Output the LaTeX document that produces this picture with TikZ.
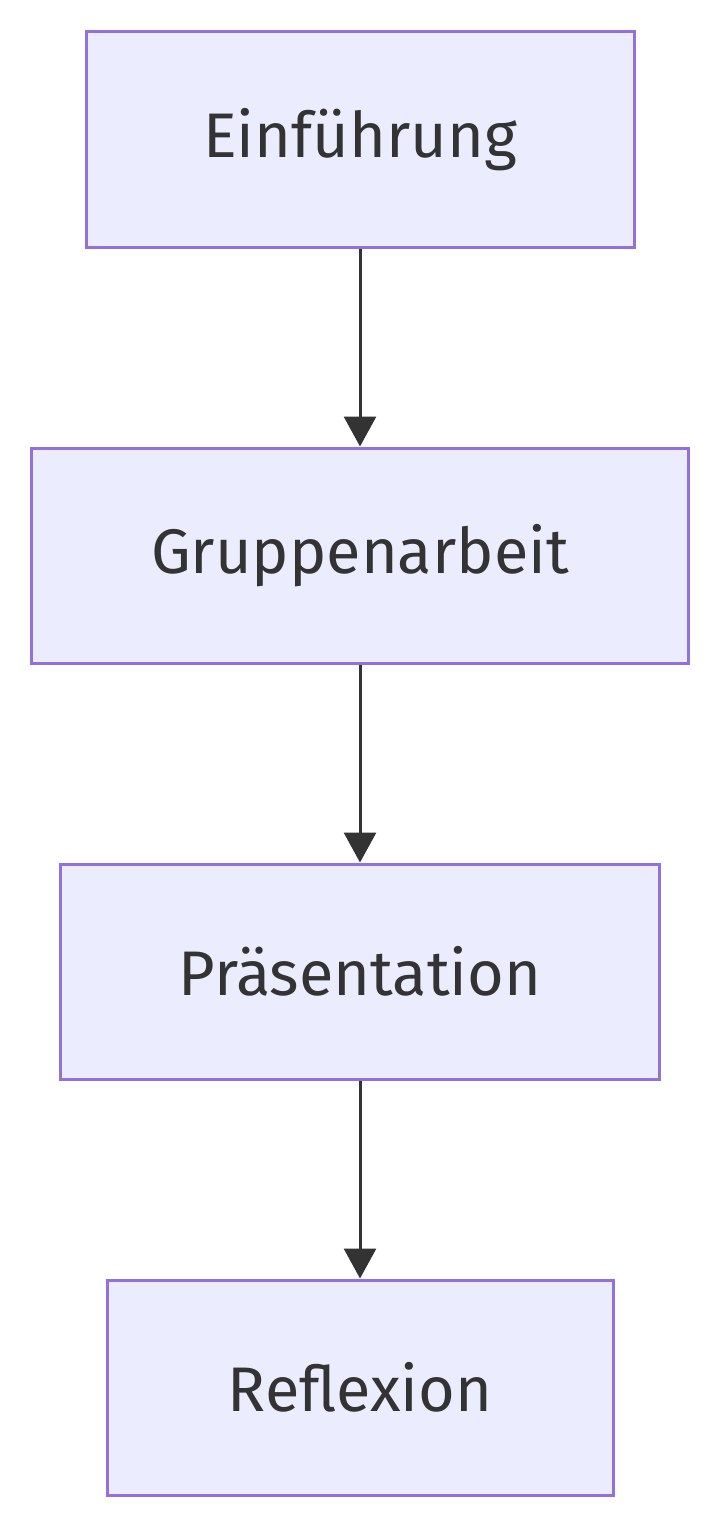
\documentclass[tikz,border=0pt]{standalone}
\usepackage{fontspec}
\setmainfont{Fira Sans}
\usepackage{xcolor}
\usetikzlibrary{arrows.meta}
\definecolor{boxfill}{HTML}{ECECFF}
\definecolor{boxline}{HTML}{9370DB}
\definecolor{ink}{HTML}{333333}
\begin{document}
\begin{tikzpicture}[x=1pt,y=-1pt,
    stage/.style={draw=boxline, fill=boxfill, line width=3pt, text=ink,
        minimum height=215pt, inner sep=0pt, font=\fontsize{63}{70}\selectfont},
    flow/.style={ink, line width=3pt, -{Triangle[length=30pt,width=32pt]}}]
            \useasboundingbox (0,0) rectangle (720,1528);
            % Stages
            \node[stage, minimum width=548pt] (intro) at (360,139.5) {Einführung};
            \node[stage, minimum width=657pt] (group) at (360,555.5) {Gruppenarbeit};
            \node[stage, minimum width=599pt] (talk) at (360,971.5) {Präsentation};
            \node[stage, minimum width=506pt] (refl) at (360,1387.5) {Reflexion};

            % Arrows
            \draw[flow] (intro) -- (group);
            \draw[flow] (group) -- (talk);
            \draw[flow] (talk) -- (refl);
\end{tikzpicture}
\end{document}
